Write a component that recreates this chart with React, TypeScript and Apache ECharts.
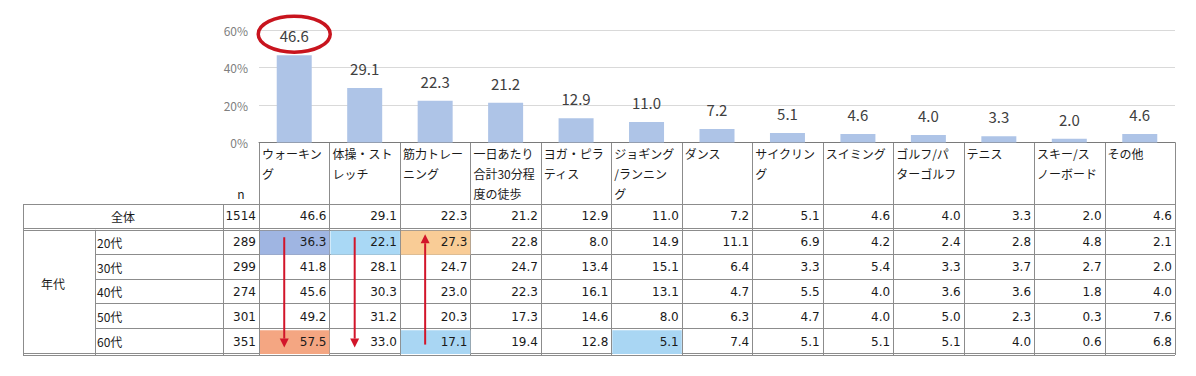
import React, { useEffect, useRef } from "react";
import * as echarts from "echarts";

const categories = [
  "ウォーキング", "体操・ストレッチ", "筋力トレーニング", "一日あたり合計30分程度の徒歩",
  "ヨガ・ピラティス", "ジョギング/ランニング", "ダンス", "サイクリング", "スイミング",
  "ゴルフ/パターゴルフ", "テニス", "スキー/スノーボード", "その他",
];
const headerLabels = [
  "ウォーキン\nグ", "体操・スト\nレッチ", "筋力トレー\nニング", "一日あたり\n合計30分程\n度の徒歩",
  "ヨガ・ピラ\nティス", "ジョギング\n/ランニン\nグ", "ダンス", "サイクリン\nグ", "スイミング",
  "ゴルフ/パ\nターゴルフ", "テニス", "スキー/ス\nノーボード", "その他",
];
const yTicks = [0, 20, 40, 60];

const overall = [46.6, 29.1, 22.3, 21.2, 12.9, 11.0, 7.2, 5.1, 4.6, 4.0, 3.3, 2.0, 4.6];
const age20 = [36.3, 22.1, 27.3, 22.8, 8.0, 14.9, 11.1, 6.9, 4.2, 2.4, 2.8, 4.8, 2.1];
const age30 = [41.8, 28.1, 24.7, 24.7, 13.4, 15.1, 6.4, 3.3, 5.4, 3.3, 3.7, 2.7, 2.0];
const age40 = [45.6, 30.3, 23.0, 22.3, 16.1, 13.1, 4.7, 5.5, 4.0, 3.6, 3.6, 1.8, 4.0];
const age50 = [49.2, 31.2, 20.3, 17.3, 14.6, 8.0, 6.3, 4.7, 4.0, 5.0, 2.3, 0.3, 7.6];
const age60 = [57.5, 33.0, 17.1, 19.4, 12.8, 5.1, 7.4, 5.1, 5.1, 5.1, 4.0, 0.6, 6.8];
const tableRows = [overall, age20, age30, age40, age50, age60];
const rowLabels = ["全体", "20代", "30代", "40代", "50代", "60代"];
const nValues = [1514, 289, 299, 274, 301, 351];
const groupLabel = "年代";

// [row, col, color]
const highlights: [number, number, string][] = [
  [1, 0, "#9fb5e2"], [1, 1, "#a9d8f5"], [1, 2, "#f9cc96"],
  [5, 0, "#f4a682"], [5, 2, "#a9d6f3"], [5, 5, "#a9d6f3"],
];
// [col, fromRow, toRow]
const arrows: [number, number, number][] = [[0, 1, 5], [1, 1, 5], [2, 5, 1]];

const FONT = "'Noto Sans CJK JP', 'Noto Sans', sans-serif";
const NUM_FONT = "'DejaVu Sans', 'Noto Sans', sans-serif";

export default function App() {
  const ref = useRef<HTMLDivElement>(null);
  useEffect(() => {
    if (!ref.current) return;
    const chart = echarts.init(ref.current, undefined, { renderer: "svg" });

    const TL = 259, TR = 1175;
    const BAR_TOP = 30, AXIS_Y = 142.5, HEAD_BOTTOM = 204, BODY_BOTTOM = 353;
    const OUT_L = 23, N_L = 223, AGE_L = 95;
    const colW = (TR - TL) / 13;
    const rowH = (BODY_BOTTOM - HEAD_BOTTOM) / 6;
    const LINE = "#8c8c8c";

    const cellColor = (r: number, c: number) => {
      const h = highlights.find((x) => x[0] === r && x[1] === c);
      return h ? h[2] : null;
    };

    const bodyData: any[] = [];
    tableRows.forEach((row, r) => row.forEach((v, c) => bodyData.push([c, r, v])));

    const lines: any[] = [];
    const hl = (x1: number, x2: number, y: number) =>
      lines.push({ type: "line", silent: true, shape: { x1, y1: y, x2, y2: y }, style: { stroke: LINE, lineWidth: 1 } });
    const vl = (x: number, y1: number, y2: number) =>
      lines.push({ type: "line", silent: true, shape: { x1: x, y1, x2: x, y2 }, style: { stroke: LINE, lineWidth: 1 } });

    for (let i = 0; i <= 13; i++) vl(Math.round(TL + i * colW) + 0.5, AXIS_Y, BODY_BOTTOM + 2);
    vl(OUT_L + 0.5, HEAD_BOTTOM, BODY_BOTTOM + 2);
    vl(N_L + 0.5, HEAD_BOTTOM, BODY_BOTTOM + 2);
    vl(AGE_L + 0.5, HEAD_BOTTOM + rowH + 1, BODY_BOTTOM + 2);
    hl(OUT_L, TR, HEAD_BOTTOM + 0.5);
    hl(OUT_L, TR, Math.round(HEAD_BOTTOM + rowH) - 0.5);
    hl(OUT_L, TR, Math.round(HEAD_BOTTOM + rowH) + 1.5);
    for (let r = 2; r < 6; r++) hl(AGE_L, TR, Math.round(HEAD_BOTTOM + r * rowH) + 0.5);
    hl(OUT_L, TR, BODY_BOTTOM + 0.5);
    hl(OUT_L, TR, BODY_BOTTOM + 2.5);

    const texts: any[] = [];
    const txt = (text: string, x: number, y: number, align: string, font = FONT) =>
      texts.push({
        type: "text", silent: true, x, y,
        style: { text, fill: "#1a1a1a", font: `12px ${font}`, textAlign: align, textVerticalAlign: "middle" },
      });
    txt("n", 241, 193, "center");
    txt(rowLabels[0], (OUT_L + N_L) / 2, HEAD_BOTTOM + rowH / 2, "center");
    txt(groupLabel, 53, 283, "center");
    rowLabels.forEach((lab, r) => {
      const cy = HEAD_BOTTOM + (r + 0.5) * rowH + (r > 0 ? 1 : 0);
      if (r > 0) txt(lab, AGE_L + 2, cy, "left");
      txt(String(nValues[r]), TL - 3, cy, "right", NUM_FONT);
    });

    const hiddenCat = (gridIndex: number, data: any[], inverse = false) => ({
      type: "category", gridIndex, data, inverse,
      axisLine: { show: false }, axisTick: { show: false }, axisLabel: { show: false }, splitLine: { show: false },
    });

    chart.setOption({
      animation: false,
      backgroundColor: "#ffffff",
      textStyle: { fontFamily: FONT },
      grid: [
        { left: TL, right: 1196 - TR, top: BAR_TOP, height: AXIS_Y - BAR_TOP },
        { left: TL, right: 1196 - TR, top: AXIS_Y, height: HEAD_BOTTOM - AXIS_Y },
        { left: TL, right: 1196 - TR, top: HEAD_BOTTOM, height: BODY_BOTTOM - HEAD_BOTTOM },
      ],
      xAxis: [
        {
          type: "category", gridIndex: 0, data: categories,
          axisLine: { show: true, lineStyle: { color: "#7a7a7a", width: 1 } },
          axisTick: { show: false }, axisLabel: { show: false },
        },
        hiddenCat(1, categories),
        hiddenCat(2, categories),
      ],
      yAxis: [
        {
          type: "value", gridIndex: 0, min: yTicks[0], max: yTicks[yTicks.length - 1], interval: 20,
          axisLine: { show: false }, axisTick: { show: false },
          axisLabel: { formatter: "{value}%", color: "#808080", fontSize: 12, margin: 11, fontFamily: FONT },
          splitLine: { lineStyle: { color: "#d9d9d9", width: 1 } },
        },
        hiddenCat(1, ["h"]),
        hiddenCat(2, rowLabels, true),
      ],
      series: [
        {
          type: "bar", xAxisIndex: 0, yAxisIndex: 0, data: overall, barWidth: 35,
          itemStyle: { color: "#aec4e7" },
          label: {
            show: true, position: "top", distance: 12, fontSize: 15, color: "#404040", fontFamily: FONT,
            formatter: (p: any) => Number(p.value).toFixed(1),
          },
        },
        {
          type: "custom", xAxisIndex: 0, yAxisIndex: 0, data: [[0, overall[0]]], silent: true, z: 10,
          renderItem: (params: any, api: any) => {
            const p = api.coord([api.value(0), api.value(1)]);
            return {
              type: "ellipse",
              shape: { cx: p[0], cy: p[1] - 21, rx: 36, ry: 18 },
              style: { fill: "none", stroke: "#c8141e", lineWidth: 3.5 },
            };
          },
        },
        {
          type: "custom", xAxisIndex: 1, yAxisIndex: 1, silent: true,
          data: headerLabels.map((_, i) => [i, 0]),
          renderItem: (params: any, api: any) => {
            const c = api.coord([api.value(0), 0]);
            const s = api.size([1, 1]);
            return {
              type: "text",
              x: c[0] - s[0] / 2 + 3, y: c[1] - s[1] / 2 + 1,
              style: {
                text: headerLabels[params.dataIndex], fill: "#1a1a1a", font: `12px ${FONT}`,
                lineHeight: 20, textAlign: "left", textVerticalAlign: "top",
              },
            };
          },
        },
        {
          type: "custom", xAxisIndex: 2, yAxisIndex: 2, silent: true, z: 1,
          data: bodyData,
          renderItem: (params: any, api: any) => {
            const col = api.value(0), row = api.value(1), v = api.value(2);
            const c = api.coord([col, row]);
            const s = api.size([1, 1]);
            const x0 = c[0] - s[0] / 2, y0 = c[1] - s[1] / 2;
            const children: any[] = [];
            const color = cellColor(row, col);
            const dy = row > 0 ? 1 : 0;
            if (color) children.push({ type: "rect", shape: { x: x0 + 1, y: y0 + 1 + dy, width: s[0] - 1, height: s[1] - 1 }, style: { fill: color } });
            children.push({
              type: "text", x: x0 + s[0] - 3, y: c[1] + dy,
              style: { text: Number(v).toFixed(1), fill: "#1a1a1a", font: `12px ${NUM_FONT}`, textAlign: "right", textVerticalAlign: "middle" },
            });
            return { type: "group", children };
          },
        },
        {
          type: "custom", xAxisIndex: 2, yAxisIndex: 2, silent: true, z: 5,
          data: arrows,
          renderItem: (params: any, api: any) => {
            const col = api.value(0), from = api.value(1), to = api.value(2);
            const a = api.coord([col, from]);
            const b = api.coord([col, to]);
            const x = a[0] - 10;
            const dir = b[1] > a[1] ? 1 : -1;
            const y1 = a[1] - dir * 4;
            const tip = b[1] + dir * 7;
            const headH = 9, headW = 4.5;
            const red = "#d2152a";
            return {
              type: "group",
              children: [
                { type: "line", shape: { x1: x, y1, x2: x, y2: tip - dir * headH }, style: { stroke: red, lineWidth: 2 } },
                { type: "polygon", shape: { points: [[x - headW, tip - dir * headH], [x + headW, tip - dir * headH], [x, tip]] }, style: { fill: red } },
              ],
            };
          },
        },
      ],
      graphic: [...lines, ...texts],
    });
    return () => chart.dispose();
  }, []);
  return <div ref={ref} style={{ position: "fixed", left: 0, top: 0, width: 1196, height: 376 }} />;
}
